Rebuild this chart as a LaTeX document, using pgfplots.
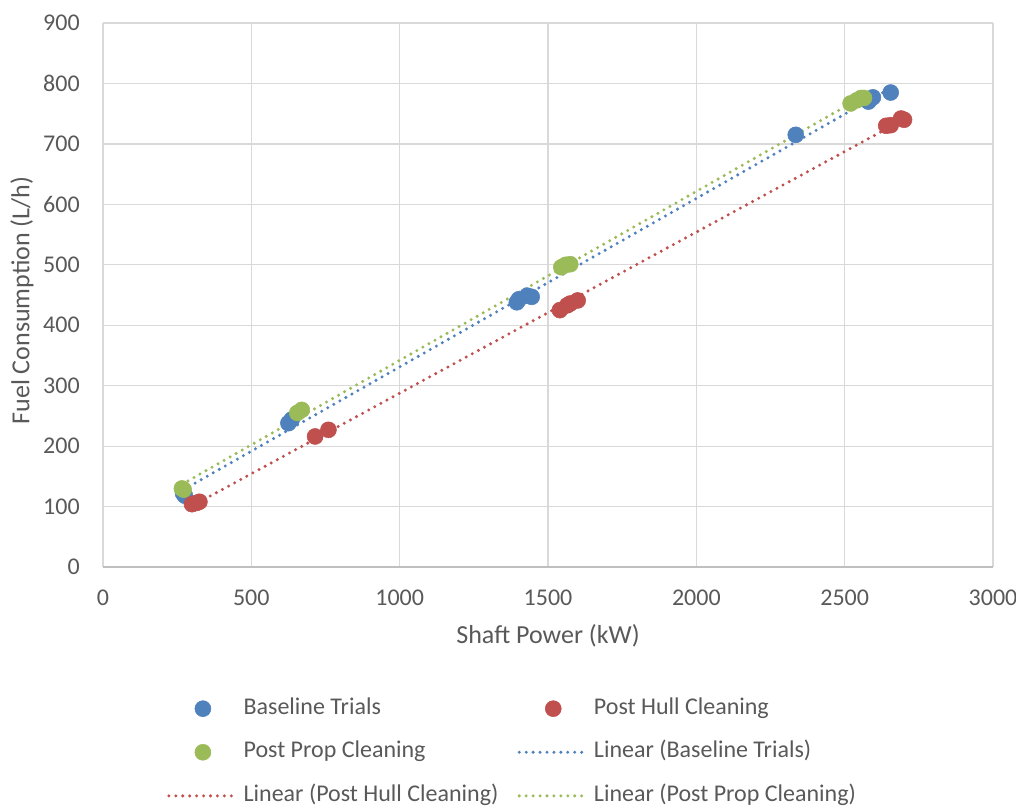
\documentclass[border=0pt]{standalone}
\usepackage{pgfplots}
\usepackage{pgfplotstable}
\pgfplotsset{compat=1.18}
\usepackage{fontspec}
\setmainfont{Carlito}
\definecolor{cblue}{HTML}{4F81BD}
\definecolor{cred}{HTML}{C0504D}
\definecolor{cgreen}{HTML}{9BBB59}
\definecolor{ctext}{HTML}{595959}
\definecolor{cgrid}{HTML}{D9D9D9}
\definecolor{caxis}{HTML}{BFBFBF}

\pgfplotstableread{
X Y
270 122
276 118
625 238
636 244
1395 438
1402 443
1430 449
1445 447
2335 715
2580 770
2595 777
2655 785
}\baseline

\pgfplotstableread{
X Y
300 104
315 106
325 108
715 216
760 227
1540 425
1565 433
1575 436
1600 441
2640 730
2655 731
2690 742
2700 740
}\hull

\pgfplotstableread{
X Y
266 130
272 128
655 255
670 260
1545 496
1560 500
1575 501
2520 767
2540 772
2555 776
2565 776
}\prop

\begin{document}
\begin{tikzpicture}
\begin{axis}[
  scale only axis,
  width=667.5pt, height=408pt,
  xmin=0, xmax=3000, ymin=0, ymax=900,
  xtick distance=500, ytick distance=100,
  grid=major,
  grid style={cgrid, line width=0.9pt},
  axis x line=bottom, axis y line=left,
  axis line style={-},
  x axis line style={caxis, line width=0.9pt},
  y axis line style={draw=none},
  major tick length=0pt,
  /pgf/number format/assume math mode=true,
  /pgf/number format/1000 sep={},
  tick label style={font=\fontsize{18}{22}\selectfont, text=ctext, inner sep=0pt},
  yticklabel style={xshift=-17.25pt},
  xticklabel style={yshift=-17pt},
  xlabel={Shaft Power (kW)},
  ylabel={Fuel Consumption (L/h)},
  label style={font=\fontsize{19.5}{23}\selectfont, text=ctext},
  xlabel style={at={(axis description cs:0.5,-0.127)}, anchor=center},
  ylabel style={at={(axis description cs:-0.091,0.49)}, anchor=center},
  legend columns=2,
  legend image code/.code={\draw[mark repeat=2,mark phase=2,#1] plot coordinates {(0pt,0pt)(25.5pt,0pt)(51pt,0pt)};},
  legend style={
    draw=none, fill=none,
    at={(axis description cs:0.0674,-0.2335)}, anchor=north west,
    font=\fontsize{18}{21}\selectfont, text=ctext,
    nodes={inner sep=0pt, text height=13pt, text depth=4.5pt},
    row sep=15.2pt,
    /tikz/every odd column/.append style={column sep=3.75pt},
    /tikz/every even column/.append style={column sep=0pt},
  },
  legend cell align=left,
]
\addplot[only marks, mark=*, mark size=6pt, mark options={draw=cblue, fill=cblue}] table[x=X,y=Y] {\baseline};
\addlegendentry{\makebox[205.5pt][l]{Baseline Trials}}
\addplot[only marks, mark=*, mark size=6pt, mark options={draw=cred, fill=cred}] table[x=X,y=Y] {\hull};
\addlegendentry{Post Hull Cleaning}
\addplot[only marks, mark=*, mark size=6pt, mark options={draw=cgreen, fill=cgreen}] table[x=X,y=Y] {\prop};
\addlegendentry{\makebox[205.5pt][l]{Post Prop Cleaning}}
\addplot[no marks, cblue, line width=2.5pt, line cap=round, dash pattern=on 0pt off 5.2pt] table[x=X, y={create col/linear regression={y=Y}}] {\baseline};
\addlegendentry{Linear (Baseline Trials)}
\addplot[no marks, cred, line width=2.5pt, line cap=round, dash pattern=on 0pt off 5.2pt] table[x=X, y={create col/linear regression={y=Y}}] {\hull};
\addlegendentry{\makebox[205.5pt][l]{Linear (Post Hull Cleaning)}}
\addplot[no marks, cgreen, line width=2.5pt, line cap=round, dash pattern=on 0pt off 5.2pt] table[x=X, y={create col/linear regression={y=Y}}] {\prop};
\addlegendentry{Linear (Post Prop Cleaning)}
\coordinate (bl) at (rel axis cs:-0.1157,-0.4449);
\coordinate (tr) at (rel axis cs:1.0258,1.0423);
\end{axis}
\pgfresetboundingbox
\path (bl) rectangle (tr);
\end{tikzpicture}
\end{document}
